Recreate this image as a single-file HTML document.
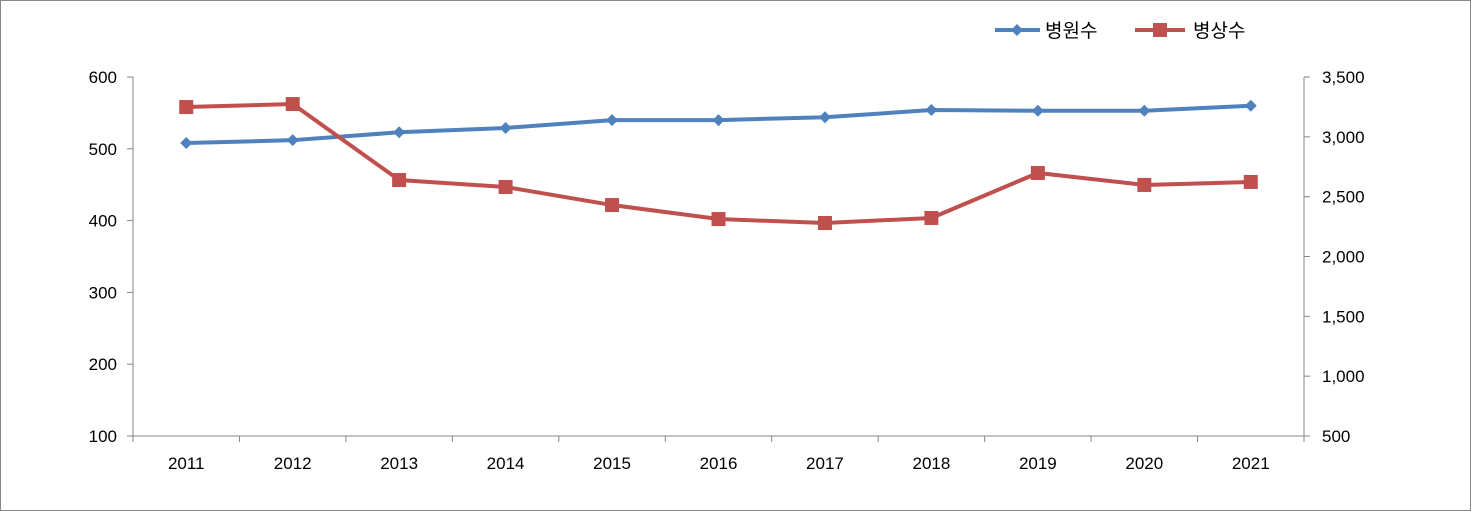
<!DOCTYPE html>
<html><head><meta charset="utf-8"><style>
html,body{margin:0;padding:0;background:#fff}
svg{display:block;font-family:"Liberation Sans","Noto Sans CJK KR",sans-serif}
</style></head><body>
<svg id="chart" width="1471" height="511">
<rect x="0.5" y="0.5" width="1470" height="510" fill="#fff" stroke="#868686"/>
<g id="axes"></g>
<g id="series"></g>
<g>
<g>
<line x1="995" y1="30" x2="1040" y2="30" stroke="#4F81BD" stroke-width="4"/>
<polygon points="1017,24 1023,30 1017,36 1011,30" fill="#4F81BD"/>
<text x="1045" y="37" font-size="19" fill="#000">병원수</text></g>
<g>
<line x1="1135" y1="30" x2="1185" y2="30" stroke="#C0504D" stroke-width="4"/>
<rect x="1153" y="23" width="14" height="14" fill="#C0504D"/>
<text x="1193" y="37" font-size="19" fill="#000">병상수</text></g>
</g>
</svg>
<script>
const categories=["2011","2012","2013","2014","2015","2016","2017","2018","2019","2020","2021"];
const hospitals=[508,512,523,529,540,540,544,554,553,553,560];
const beds=[3249,3274,2639,2581,2430,2313,2280,2322,2698,2598,2623];
const leftTicks=[100,200,300,400,500,600];
const rightTicks=[500,1000,1500,2000,2500,3000,3500];
const NS="http://www.w3.org/2000/svg";
const L=133,R=1304,T=77,B=436;
const bw=(R-L)/categories.length;
const xS=i=>L+bw*(i+0.5);
const yL=v=>B-(v-100)/500*(B-T);
const yR=v=>B-(v-500)/3000*(B-T);
function mk(tag,attrs,parent){const e=document.createElementNS(NS,tag);for(const k in attrs)e.setAttribute(k,attrs[k]);parent.appendChild(e);return e;}
const ax=document.getElementById('axes'),se=document.getElementById('series');
let e;
e=mk('line',{x1:L,y1:T,x2:L,y2:B,stroke:'#868686'},ax);


e=mk('line',{x1:R,y1:T,x2:R,y2:B,stroke:'#868686'},ax);


e=mk('line',{x1:L,y1:B,x2:R,y2:B,stroke:'#868686'},ax);


leftTicks.forEach(v=>{const y=yL(v);
mk('line',{x1:L-6,y1:y,x2:L,y2:y,stroke:'#868686'},ax);
e=mk('text',{x:L-16,y:y+6,'text-anchor':'end','font-size':17},ax);e.textContent=v;

});
rightTicks.forEach(v=>{const y=yR(v);
mk('line',{x1:R,y1:y,x2:R+6,y2:y,stroke:'#868686'},ax);
e=mk('text',{x:R+18,y:y+6,'font-size':17},ax);e.textContent=v.toLocaleString('en-US');

});
for(let i=0;i<=categories.length;i++){const x=L+bw*i;mk('line',{x1:x,y1:B,x2:x,y2:B+6,stroke:'#868686'},ax);}
categories.forEach((c,i)=>{e=mk('text',{x:xS(i),y:B+33,'text-anchor':'middle','font-size':17},ax);e.textContent=c;

});
e=mk('polyline',{points:hospitals.map((v,i)=>xS(i)+','+yL(v)).join(' '),fill:'none',stroke:'#4F81BD','stroke-width':4},se);


e=mk('polyline',{points:beds.map((v,i)=>xS(i)+','+yR(v)).join(' '),fill:'none',stroke:'#C0504D','stroke-width':4},se);


hospitals.forEach((v,i)=>{const x=xS(i),y=yL(v);
e=mk('polygon',{points:`${x},${y-6} ${x+6},${y} ${x},${y+6} ${x-6},${y}`,fill:'#4F81BD'},se);

});
beds.forEach((v,i)=>{const x=xS(i),y=yR(v);
e=mk('rect',{x:x-7,y:y-7,width:14,height:14,fill:'#C0504D'},se);

});
</script>
</body></html>
